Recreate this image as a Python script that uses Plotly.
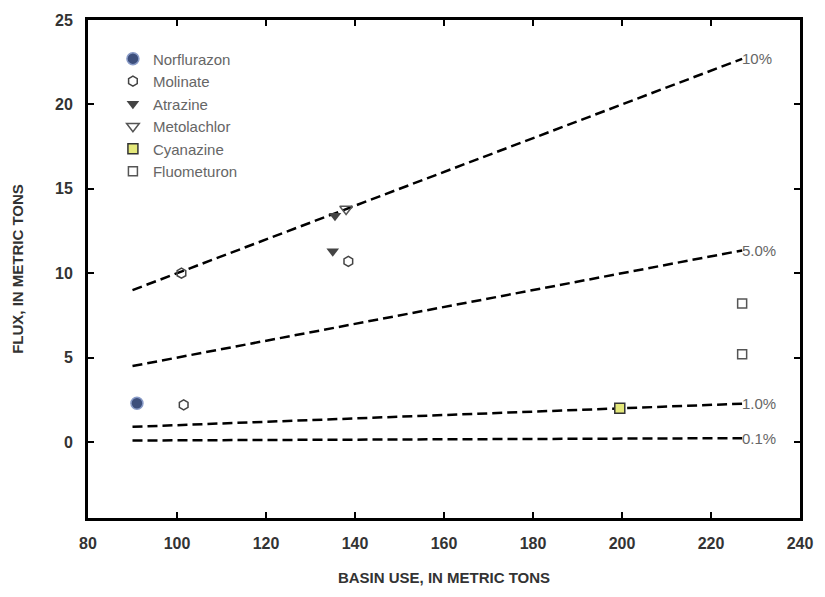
import plotly.graph_objects as go

# Reference lines (fraction of basin use), end points
line_x = [90, 227]
line_labels = ["10%", "5.0%", "1.0%", "0.1%"]
line_y = {
    "10%": [9.0, 22.7],
    "5.0%": [4.5, 11.35],
    "1.0%": [0.9, 2.27],
    "0.1%": [0.09, 0.23],
}

# Pesticide points
norflurazon_x = [91]
norflurazon_y = [2.3]
molinate_x = [101, 138.5, 101.5]
molinate_y = [10.0, 10.7, 2.2]
atrazine_x = [135.5, 135.0]
atrazine_y = [13.4, 11.3]
metolachlor_x = [138]
metolachlor_y = [13.8]
cyanazine_x = [199.5]
cyanazine_y = [2.0]
fluometuron_x = [227, 227]
fluometuron_y = [8.2, 5.2]

x_ticks = [80, 100, 120, 140, 160, 180, 200, 220, 240]
y_ticks = [0, 5, 10, 15, 20, 25]

FONT = "Liberation Sans Narrow, Arial Narrow, Liberation Sans, Arial, sans-serif"
FONT2 = "Liberation Sans, Arial, sans-serif"
fig = go.Figure()

for lab in line_labels:
    fig.add_trace(go.Scatter(
        x=line_x, y=line_y[lab], mode="lines",
        line=dict(color="black", width=2.5, dash="10px,5px"),
        showlegend=False, hoverinfo="skip"))

fig.add_trace(go.Scatter(x=norflurazon_x, y=norflurazon_y, mode="markers", name="Norflurazon",
    marker=dict(symbol="circle", size=12, color="#3d4f7c", line=dict(color="#8a9cc8", width=1.5))))
fig.add_trace(go.Scatter(x=molinate_x, y=molinate_y, mode="markers", name="Molinate",
    marker=dict(symbol="hexagon-open", size=10, color="#444", line=dict(width=1.5))))
fig.add_trace(go.Scatter(x=atrazine_x, y=atrazine_y, mode="markers", name="Atrazine",
    marker=dict(symbol="triangle-down", size=11, color="#444")))
fig.add_trace(go.Scatter(x=metolachlor_x, y=metolachlor_y, mode="markers", name="Metolachlor",
    marker=dict(symbol="triangle-down-open", size=11, color="#555", line=dict(width=1.5))))
fig.add_trace(go.Scatter(x=cyanazine_x, y=cyanazine_y, mode="markers", name="Cyanazine",
    marker=dict(symbol="square", size=10, color="#e4e87a", line=dict(color="#333", width=1.5))))
fig.add_trace(go.Scatter(x=fluometuron_x, y=fluometuron_y, mode="markers", name="Fluometuron",
    marker=dict(symbol="square-open", size=9, color="#555", line=dict(width=1.5))))

for lab in line_labels:
    fig.add_annotation(x=line_x[1], y=line_y[lab][1], text=lab, showarrow=False,
                       xanchor="left", yanchor="middle", xshift=-2,
                       font=dict(family=FONT2, size=15, color="#666"))

axis_common = dict(
    showline=True, linecolor="black", linewidth=3, mirror="ticks",
    ticks="inside", ticklen=6, tickwidth=2, tickcolor="black",
    showgrid=False, zeroline=False, ticklabelstandoff=9,
    tickfont=dict(family=FONT, size=16, color="#333", weight="bold"),
)

fig.update_xaxes(range=[80, 240], tickvals=x_ticks,
                 title=dict(text="BASIN USE, IN METRIC TONS", standoff=22,
                            font=dict(family=FONT, size=15, color="#333", weight="bold")),
                 **axis_common)
fig.update_yaxes(range=[-4.5, 25], tickvals=y_ticks,
                 title=dict(text="FLUX, IN METRIC TONS", standoff=28,
                            font=dict(family=FONT, size=15, color="#333", weight="bold")),
                 **axis_common)

fig.update_layout(
    width=825, height=597,
    margin=dict(l=88, r=23, t=20, b=77),
    paper_bgcolor="white", plot_bgcolor="white",
    legend=dict(x=0.035, y=0.955, xanchor="left", yanchor="top",
                bgcolor="rgba(0,0,0,0)", tracegroupgap=0, itemwidth=30,
                font=dict(family=FONT2, size=15, color="#666")),
)

fig.write_html("out.html")
